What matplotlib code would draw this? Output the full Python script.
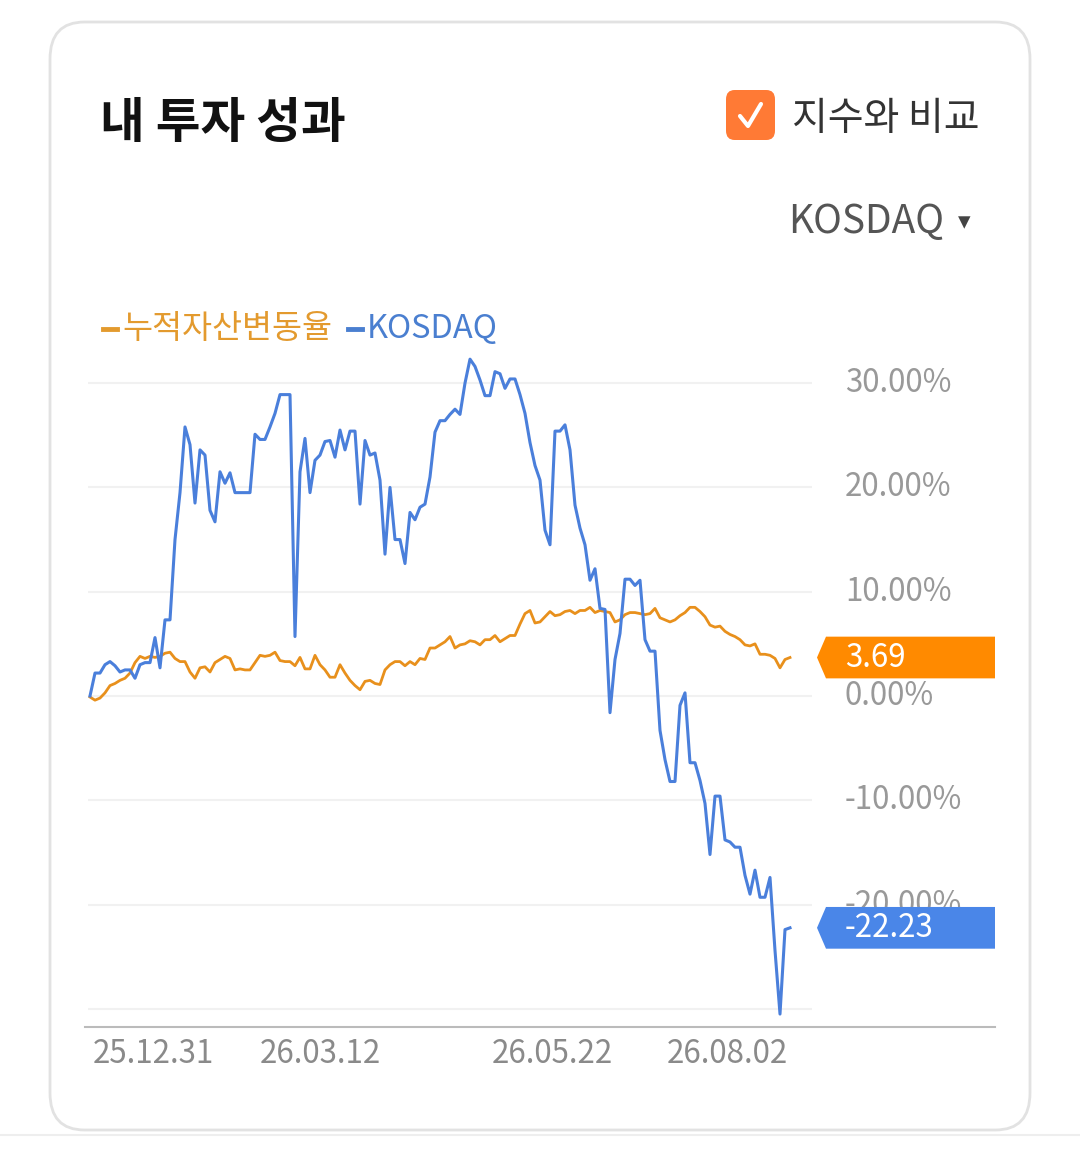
import matplotlib
matplotlib.use("Agg")
import matplotlib.pyplot as plt
from matplotlib.patches import FancyBboxPatch, Polygon
from matplotlib.lines import Line2D
from matplotlib.transforms import blended_transform_factory
import numpy as np

plt.rcParams['font.family'] = ['Noto Sans CJK KR', 'DejaVu Sans']

# data (percent change, evenly spaced trading days)
my_returns = [
    -0.1, -0.4, -0.2, 0.3, 1.0, 1.2, 1.5, 1.7, 2.2, 3.2,
    3.8, 3.6, 3.8, 3.7, 3.8, 4.1, 4.2, 3.6, 3.3, 3.3,
    2.3, 1.7, 2.7, 2.8, 2.3, 3.2, 3.5, 3.8, 3.6, 2.5,
    2.6, 2.5, 2.5, 3.2, 3.9, 3.8, 3.9, 4.2, 3.4, 3.3,
    3.3, 2.9, 3.7, 2.6, 2.6, 3.9, 3.0, 2.5, 1.8, 1.8,
    3.0, 2.2, 1.5, 1.0, 0.6, 1.4, 1.5, 1.2, 1.1, 2.5,
    3.0, 3.3, 3.3, 2.9, 3.3, 3.0, 3.6, 3.5, 4.6, 4.6,
    4.9, 5.2, 5.7, 4.6, 4.9, 5.0, 5.3, 5.2, 4.9, 5.4,
    5.4, 5.8, 5.2, 5.5, 5.8, 5.8, 6.9, 7.9, 8.2, 7.0,
    7.1, 7.6, 8.1, 7.7, 7.8, 8.1, 8.2, 7.9, 8.2, 8.2,
    8.5, 8.0, 8.2, 8.1, 8.0, 7.1, 7.3, 7.8, 8.0, 8.0,
    7.9, 7.8, 7.9, 8.4, 7.5, 7.3, 7.1, 7.3, 7.7, 8.0,
    8.5, 8.5, 8.1, 7.6, 6.8, 6.6, 6.7, 6.2, 5.9, 5.7,
    5.4, 4.9, 4.8, 5.0, 4.0, 4.0, 3.9, 3.6, 2.7, 3.5,
    3.69,
]
kosdaq = [
    0.0, 2.2, 2.2, 3.0, 3.3, 2.9, 2.3, 2.5, 2.5, 1.7,
    3.0, 3.2, 3.2, 5.6, 2.7, 7.3, 7.3, 15.0, 19.5, 25.8,
    24.1, 18.5, 23.6, 23.1, 17.8, 16.7, 21.5, 20.4, 21.4, 19.5,
    19.5, 19.5, 19.5, 25.1, 24.6, 24.6, 25.8, 27.1, 28.9, 28.9,
    28.9, 5.7, 21.5, 24.7, 19.5, 22.6, 23.1, 24.4, 24.5, 22.9,
    25.5, 23.6, 25.4, 25.4, 18.4, 24.5, 23.1, 23.3, 20.7, 13.6,
    20.0, 15.0, 15.0, 12.7, 17.6, 16.9, 18.1, 18.4, 21.0, 25.3,
    26.4, 26.4, 27.0, 27.5, 27.0, 30.0, 32.3, 31.6, 30.3, 28.8,
    28.8, 31.1, 30.9, 29.5, 30.4, 30.4, 28.9, 27.1, 24.3, 22.1,
    20.7, 15.9, 14.5, 25.4, 25.4, 26.0, 23.6, 18.3, 16.1, 14.5,
    11.1, 12.2, 8.4, 8.3, -1.6, 3.5, 6.0, 11.2, 11.2, 10.6,
    11.1, 5.4, 4.3, 4.3, -3.3, -6.1, -8.2, -8.2, -0.9, 0.3,
    -6.4, -6.4, -8.1, -10.3, -15.2, -9.6, -9.6, -13.8, -14.0, -14.5,
    -14.5, -17.2, -19.0, -16.7, -19.3, -19.3, -17.4, -24.4, -30.5, -22.4,
    -22.23,
]
x_tick_pos = [12.6, 46, 92.4, 127.4]
x_tick_labels = ['25.12.31', '26.03.12', '26.05.22', '26.08.02']
y_ticks = [30, 20, 10, 0, -10, -20, -30]
y_tick_labels = ['30.00%', '20.00%', '10.00%', '0.00%', '-10.00%', '-20.00%', '']

ORANGE_LINE = '#E8901C'
BLUE_LINE = '#4A7FDB'
ORANGE_TAG = '#FF8A00'
BLUE_TAG = '#4A86E8'

W, H = 1080, 1158


def px(x, y):
    # pixel position (top-left origin) -> figure fraction
    return x / W, 1 - y / H


fig = plt.figure(figsize=(10.8, 11.58), dpi=100)
fig.patch.set_facecolor('white')

# card background (kept behind the axes)
card = FancyBboxPatch(px(50, 1130), 980 / W, 1108 / H,
                      boxstyle="round,pad=0,rounding_size=0.032",
                      transform=fig.transFigure, facecolor='white',
                      edgecolor='#e2e2e2', linewidth=2, zorder=-5)
fig.patches.append(card)
fig.lines.append(Line2D([0, 1], [1 - 1135 / H] * 2, transform=fig.transFigure,
                        color='#eeeeee', lw=1.5, zorder=-5))

# header
fig.text(*px(100, 124), '내 투자 성과', fontsize=35, fontweight='heavy',
         color='#111111', va='center', ha='left')
box = FancyBboxPatch(px(726, 140), 49 / W, 50 / H,
                     boxstyle="round,pad=0,rounding_size=0.008",
                     transform=fig.transFigure, facecolor='#FF7A35',
                     edgecolor='none')
fig.patches.append(box)
cx, cy = zip(px(740, 116), px(748, 126), px(761, 104))
fig.lines.append(Line2D(cx, cy, transform=fig.transFigure, color='white',
                        lw=3, solid_capstyle='round', solid_joinstyle='round'))
fig.text(*px(792, 119), '지수와 비교', fontsize=28, color='#333333',
         va='center', ha='left')
fig.text(*px(788, 222), 'KOSDAQ', fontsize=28, color='#555555',
         va='center', ha='left')
fig.text(*px(964, 222), '▾', fontsize=18, color='#444444',
         va='center', ha='center', family=['DejaVu Sans'])

# legend
for x0, label, col in [(103, '누적자산변동율', '#E39A2E'), (348, 'KOSDAQ', '#4A7FD0')]:
    lx, ly = zip(px(x0, 329), px(x0 + 14, 329))
    fig.lines.append(Line2D(lx, ly, transform=fig.transFigure, color=col, lw=3.5))
    fig.text(*px(x0 + 19, 329), label, fontsize=23.5, color=col,
             va='center', ha='left')

# chart
ax = fig.add_axes([85 / W, 1 - 1027 / H, 910 / W, 686 / H])
ax.set_facecolor('none')
ax.set_xlim(-1, 181)
ax.set_ylim(-31.74, 34.04)
idx = np.arange(len(kosdaq))

ax.hlines(y_ticks, -0.4, 144.4, color='#f1f1f1', lw=1.5, zorder=1)
ax.plot(idx, my_returns, color=ORANGE_LINE, lw=2.0, zorder=3)
ax.plot(idx, kosdaq, color=BLUE_LINE, lw=2.2, zorder=4)

for s in ['top', 'right', 'left']:
    ax.spines[s].set_visible(False)
ax.spines['bottom'].set_color('#bbbbbb')
ax.spines['bottom'].set_linewidth(1.5)
ax.set_yticks([])
ax.set_xticks(x_tick_pos)
ax.set_xticklabels(x_tick_labels, fontsize=22.5, color='#8a8a8a')
ax.tick_params(axis='x', length=0, pad=8)

trans = blended_transform_factory(ax.transAxes, ax.transData)
lab_x = (845 - 85) / 910
for v, lab in zip(y_ticks, y_tick_labels):
    ax.text(lab_x, v, lab, transform=trans, fontsize=22.5, color='#999999',
            va='center', ha='left', zorder=5)

# last value tags
tip = (817 - 85) / 910
edge = (826 - 85) / 910
hh = 2.0
for val, col in [(my_returns[-1], ORANGE_TAG), (kosdaq[-1], BLUE_TAG)]:
    poly = Polygon([(tip, val), (edge, val + hh), (1.0, val + hh),
                    (1.0, val - hh), (edge, val - hh)], closed=True,
                   transform=trans, facecolor=col, edgecolor='none',
                   zorder=6, clip_on=False)
    ax.add_patch(poly)
    ax.text(lab_x, val, f'{val:.2f}', transform=trans, fontsize=22.5,
            color='white', va='center', ha='left', zorder=7)

fig.savefig('out.png', dpi=100, facecolor='white')
plt.close(fig)
